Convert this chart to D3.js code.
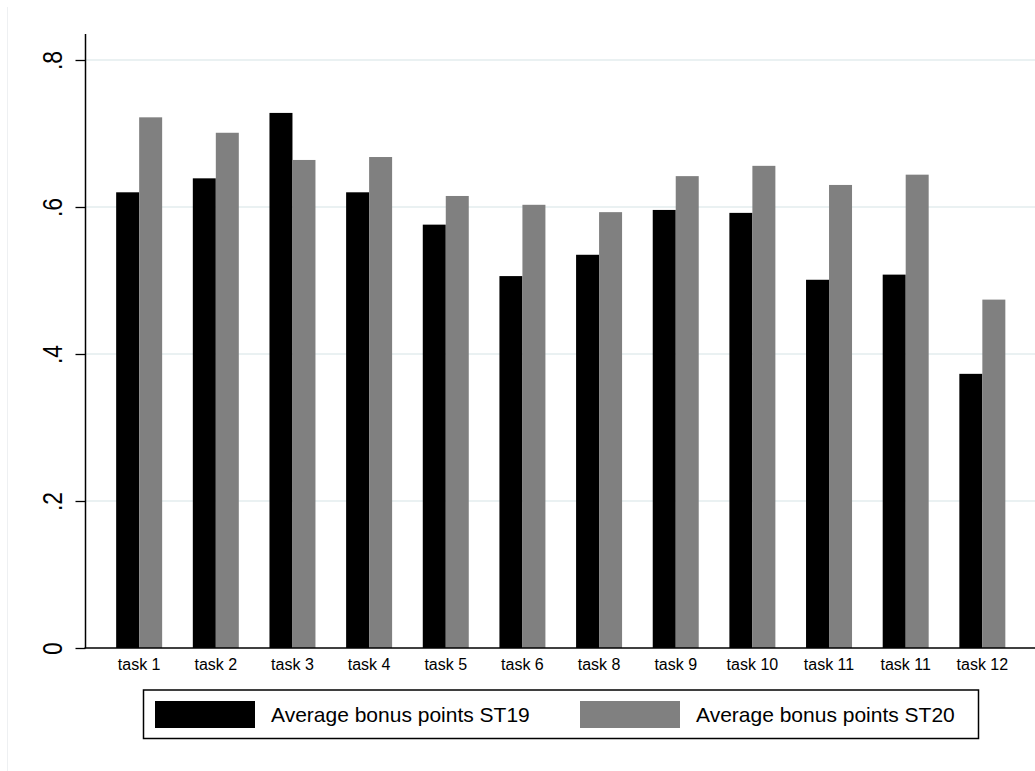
<!DOCTYPE html>
<html>
<head>
<meta charset="utf-8">
<script src="https://cdn.jsdelivr.net/npm/d3@7/dist/d3.min.js"></script>
<style>
  html, body { margin: 0; padding: 0; background: #fff; }
  svg { display: block; font-family: "Liberation Sans", Arial, sans-serif; }
</style>
</head>
<body>
<svg id="chart" width="1035" height="771"></svg>
<script>
const categories = ["task 1","task 2","task 3","task 4","task 5","task 6","task 8","task 9","task 10","task 11","task 11","task 12"];
const st19 = [0.620, 0.639, 0.728, 0.620, 0.576, 0.506, 0.535, 0.596, 0.592, 0.501, 0.508, 0.373];
const st20 = [0.722, 0.701, 0.664, 0.668, 0.615, 0.603, 0.593, 0.642, 0.656, 0.630, 0.644, 0.474];
const seriesNames = ["Average bonus points ST19", "Average bonus points ST20"];
const seriesColors = ["#000000", "#808080"];
const yTicks = [0, 0.2, 0.4, 0.6, 0.8];
const yTickLabels = ["0", ".2", ".4", ".6", ".8"];

const svg = d3.select("#chart");
const left = 85.5, right = 1036, bottom = 648, axisTop = 34;

// faint outer frame line (left)
svg.append("line").attr("x1", 7.5).attr("x2", 7.5).attr("y1", 7).attr("y2", 771)
  .attr("stroke", "#eef0f2").attr("stroke-width", 1);

const y = d3.scaleLinear().domain([0, 0.8]).range([bottom, 60]);
const x0 = d3.scaleBand().domain(d3.range(categories.length)).range([left, right])
  .paddingInner(0.4).paddingOuter(0.4);
const x1 = d3.scaleBand().domain([0, 1]).range([0, x0.bandwidth()]);

// gridlines
svg.append("g").selectAll("line").data(yTicks.filter(d => d > 0)).join("line")
  .attr("x1", left).attr("x2", 1035)
  .attr("y1", d => y(d)).attr("y2", d => y(d))
  .attr("stroke", "#eaf1f2").attr("stroke-width", 2);

// bars
const groups = svg.append("g").selectAll("g").data(categories).join("g")
  .attr("transform", (d, i) => `translate(${x0(i)},0)`);
groups.each(function(d, i) {
  const vals = [st19[i], st20[i]];
  d3.select(this).selectAll("rect").data(vals).join("rect")
    .attr("x", (v, j) => x1(j))
    .attr("width", x1.bandwidth())
    .attr("y", v => y(v))
    .attr("height", v => bottom - y(v))
    .attr("fill", (v, j) => seriesColors[j]);
});

// y axis
const yAxis = d3.axisLeft(y).tickValues(yTicks).tickSize(10)
  .tickFormat((d, i) => yTickLabels[i]);
const gy = svg.append("g").attr("transform", `translate(${left},0)`).call(yAxis);
gy.select(".domain").remove();
gy.selectAll(".tick line").attr("stroke", "#000").attr("stroke-width", 1.3);
gy.selectAll(".tick text")
  .attr("x", null).attr("dy", null)
  .attr("transform", "translate(-23.5,0) rotate(-90) scale(0.85,1)")
  .attr("text-anchor", "middle")
  .attr("font-size", 27)
  .attr("fill", "#000")
  .attr("font-family", "Liberation Sans, Arial, sans-serif");
svg.append("line").attr("x1", left).attr("x2", left).attr("y1", axisTop).attr("y2", bottom)
  .attr("stroke", "#000").attr("stroke-width", 1.5);

// x axis
const xAxis = d3.axisBottom(x0).tickSize(0).tickFormat(i => categories[i]);
const gx = svg.append("g").attr("transform", `translate(0,${bottom})`).call(xAxis);
gx.select(".domain").remove();
gx.selectAll(".tick text").attr("y", 11).attr("dy", "0.71em")
  .attr("font-size", 16).attr("fill", "#000")
  .attr("font-family", "Liberation Sans, Arial, sans-serif");
svg.append("line").attr("x1", left - 1).attr("x2", 1035).attr("y1", bottom).attr("y2", bottom)
  .attr("stroke", "#000").attr("stroke-width", 1.5);

// legend
const lg = svg.append("g");
lg.append("rect").attr("x", 143.5).attr("y", 690).attr("width", 835).attr("height", 48.5)
  .attr("fill", "#fff").attr("stroke", "#000").attr("stroke-width", 1.5);
const legendX = [155, 580];
seriesNames.forEach((name, j) => {
  lg.append("rect").attr("x", legendX[j]).attr("y", 701).attr("width", 100).attr("height", 27)
    .attr("fill", seriesColors[j]);
  lg.append("text").attr("x", legendX[j] + 116).attr("y", 714.5).attr("dy", "0.35em")
    .attr("font-size", 21).attr("fill", "#000").text(name);
});
</script>
</body>
</html>
